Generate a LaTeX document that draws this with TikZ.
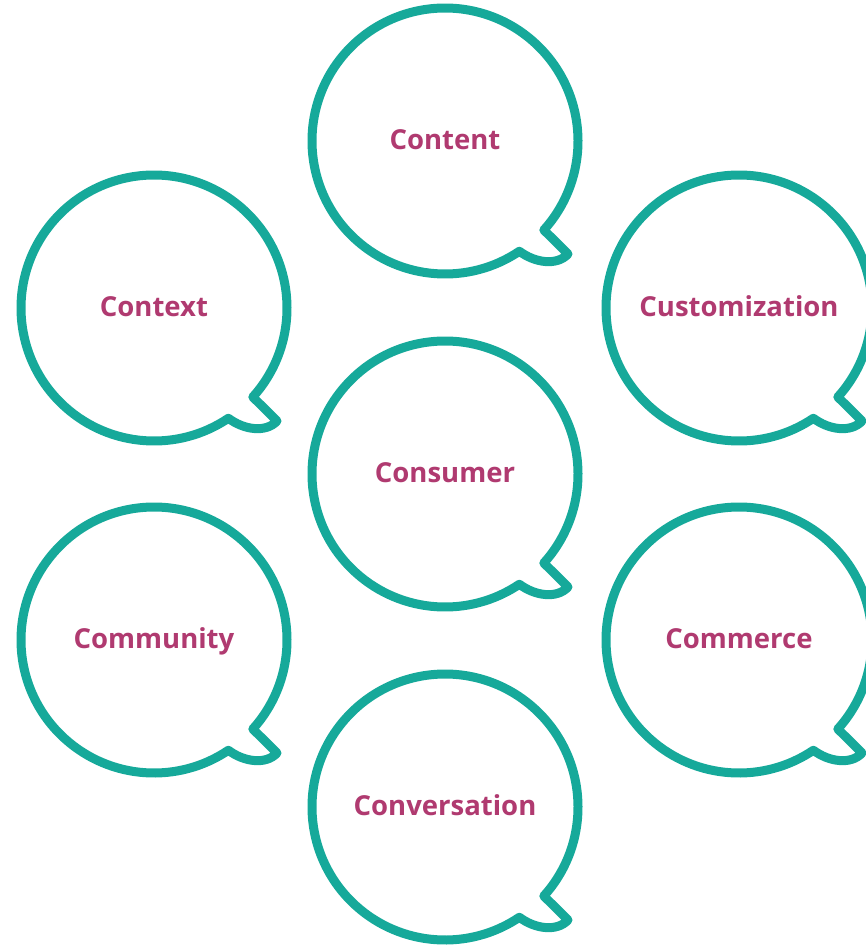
\documentclass[tikz,border=0pt]{standalone}
\usepackage{fontspec}
\setmainfont{Open Sans}
\definecolor{bubbleteal}{HTML}{16A99A}
\definecolor{labelplum}{HTML}{B03A70}
\tikzset{
  bubble/.style={draw=bubbleteal, line width=9pt, fill=white, line join=round},
  bubblelabel/.style={text=labelplum, font=\bfseries\fontsize{27.5}{30}\selectfont,
    inner sep=0pt, anchor=base},
}
% speech bubble: circle with a small tail at the lower right, label in the middle
\newcommand\speechbubble[4]{%
  \begin{scope}[shift={(#2,#3)}]
    \draw[bubble] (42:133) arc[start angle=42, end angle=-304, radius=133]
      .. controls (90,122) and (112,125) .. (123,113) -- cycle;
    \node[bubblelabel] (#1) at (0,8) {#4};
  \end{scope}}
\begin{document}
\begin{tikzpicture}[x=1pt, y=-1pt]
  \useasboundingbox (0,0) rectangle (866,945);
  \clip (0,0) rectangle (866,945);
  \speechbubble{content}{445}{141}{Content}
  \speechbubble{context}{154}{308}{Context}
  \speechbubble{customization}{739}{308}{Customization}
  \speechbubble{consumer}{445}{474}{Consumer}
  \speechbubble{community}{154}{640}{Community}
  \speechbubble{commerce}{739}{640}{Commerce}
  \speechbubble{conversation}{445}{807}{Conversation}
\end{tikzpicture}
\end{document}
